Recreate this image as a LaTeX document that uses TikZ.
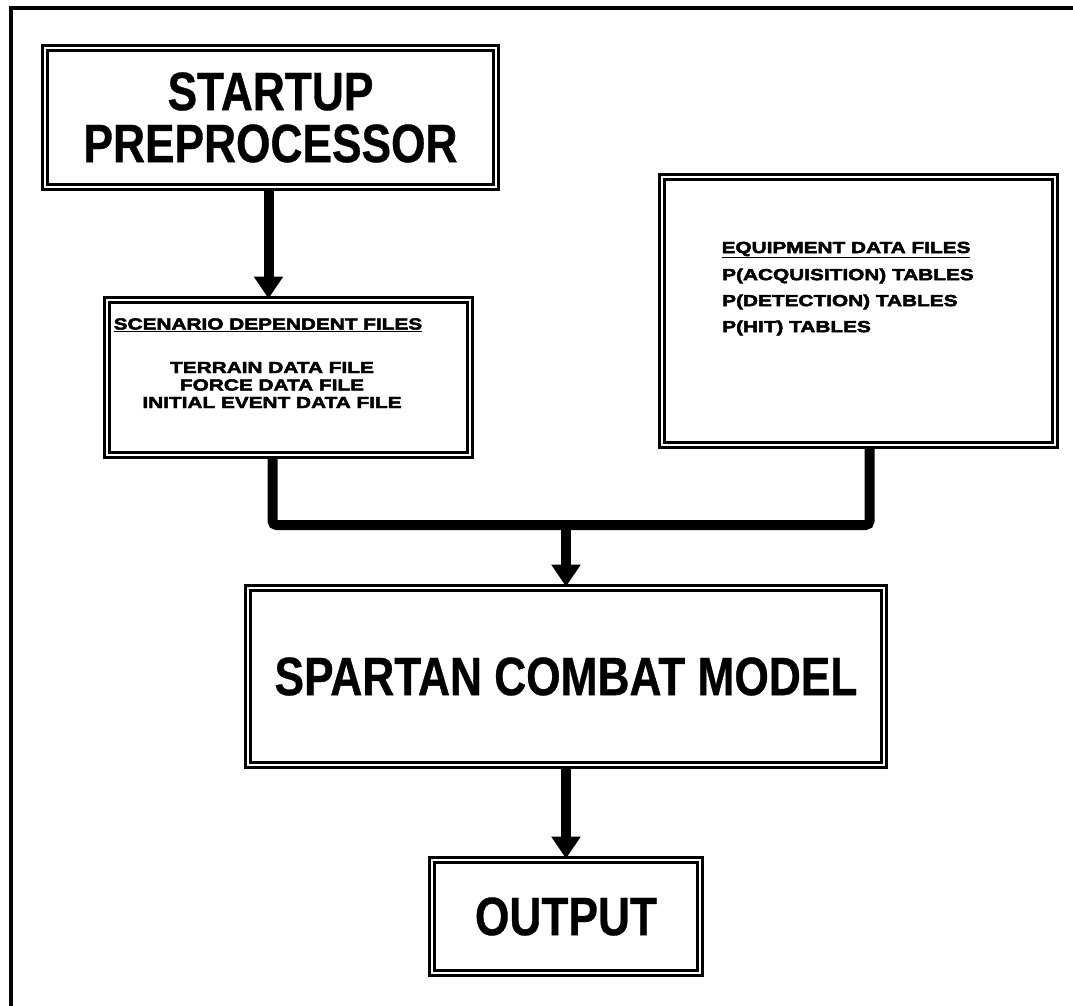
\documentclass[tikz,border=0pt]{standalone}
\usepackage{fontspec}
\setmainfont{Liberation Sans}
\newfontfamily\bigfont[FakeStretch=0.82,FakeBold=0.6]{Liberation Sans}
\newfontfamily\smallfont[FakeStretch=1.3,FakeBold=3]{Liberation Sans}
\usetikzlibrary{arrows.meta}

\tikzset{
	procbox/.style={draw, double, double distance=2pt, line width=2.8pt, inner sep=0pt, align=center},
	bigtext/.style={font=\bigfont\bfseries\fontsize{54}{52}\selectfont},
	smalltext/.style={font=\smallfont\bfseries\fontsize{16}{17.5}\selectfont, inner sep=0pt},
	flowline/.style={line width=10pt, rounded corners=4pt},
	flowarrow/.style={line width=10pt, -{Triangle[width=28pt,length=22pt]}}
}

\begin{document}
\begin{tikzpicture}[x=1pt, y=-1pt]
	\useasboundingbox (0,0) rectangle (1073,1006);
	% frame (only top and left edge kept in the scan)
	\draw[line width=4pt] (11,1006) -- (11,8) -- (1073,8);
	% boxes
	\node[procbox, bigtext, minimum width=451pt, minimum height=139pt] (startup) at (270.5,117.5) {STARTUP\\PREPROCESSOR};
	\node[procbox, minimum width=363pt, minimum height=155pt] (scenario) at (288.5,377.5) {};
	\node[procbox, minimum width=393pt, minimum height=268pt] (equip) at (858.5,311) {};
	\node[procbox, bigtext, minimum width=636pt, minimum height=177pt] (spartan) at (566,676.5) {SPARTAN COMBAT MODEL};
	\node[procbox, bigtext, minimum width=268pt, minimum height=113pt] (output) at (566,916.5) {OUTPUT};
	% box texts
	\node[smalltext] (scenhead) at (268,325) {\underline{SCENARIO DEPENDENT FILES}};
	\node[smalltext, align=center] (scenlist) at (272,385) {TERRAIN DATA FILE\\FORCE DATA FILE\\INITIAL EVENT DATA FILE};
	\node[smalltext] (equiphead) at (846,250) {\underline{EQUIPMENT DATA FILES}};
	\node[smalltext, align=left, anchor=west, font=\smallfont\bfseries\fontsize{16}{26}\selectfont] (equiplist) at (722,302) {P(ACQUISITION) TABLES\\P(DETECTION) TABLES\\P(HIT) TABLES};
	% connectors
	\coordinate (join) at (566,525);
	\draw[flowarrow] ([xshift=-2pt]startup.south) -- ([xshift=-2pt]startup.south |- scenario.north);
	\draw[flowline] ([xshift=-16pt]scenario.south) |- (join) -| ([xshift=11pt]equip.south);
	\draw[flowarrow] (join) -- (spartan.north);
	\draw[flowarrow] (spartan.south) -- (output.north);
\end{tikzpicture}
\end{document}
